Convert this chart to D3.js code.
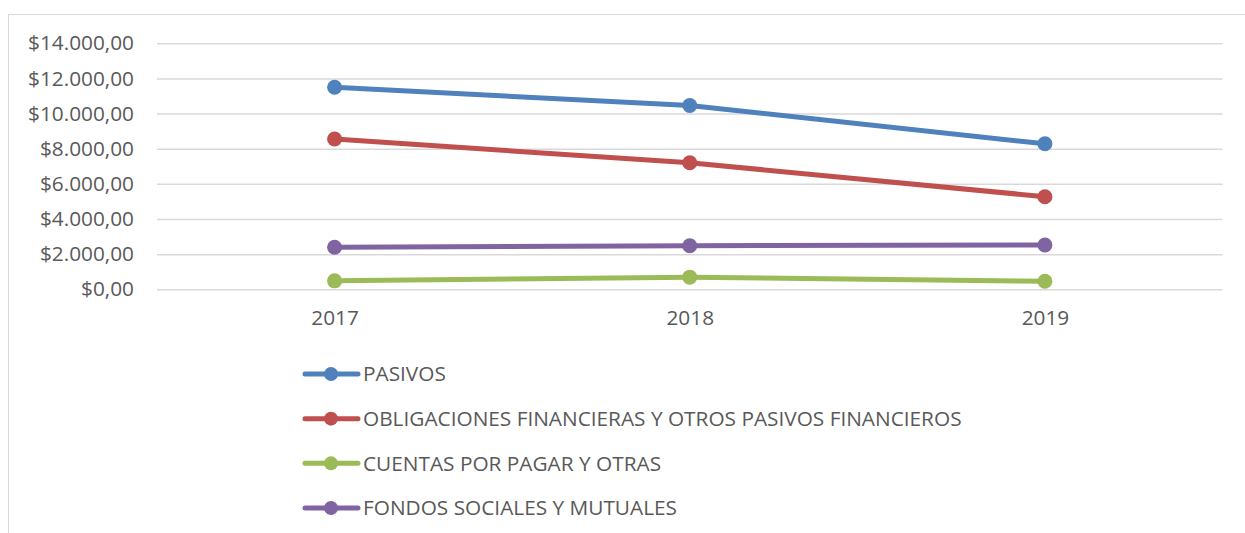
<!DOCTYPE html>
<html>
<head>
<meta charset="utf-8">
<script src="https://cdn.jsdelivr.net/npm/d3@7"></script>
<style>
  body { margin: 0; background: #fff; }
  svg text { font-family: "Open Sans", sans-serif; fill: #595959; }
</style>
</head>
<body>
<svg id="chart" width="1245" height="533"></svg>
<script>
const years = ['2017', '2018', '2019'];
const seriesNames = [
  'PASIVOS',
  'OBLIGACIONES FINANCIERAS Y OTROS PASIVOS FINANCIEROS',
  'CUENTAS POR PAGAR Y OTRAS',
  'FONDOS SOCIALES Y MUTUALES'
];
const pasivos = [11500, 10460, 8280];
const obligaciones = [8550, 7200, 5270];
const cuentas = [480, 690, 460];
const fondos = [2390, 2480, 2520];
const yTicks = [0, 2000, 4000, 6000, 8000, 10000, 12000, 14000];
const colors = ['#4F81BD', '#C0504D', '#9BBB59', '#8064A2'];

const seriesValues = [pasivos, obligaciones, cuentas, fondos];

const svg = d3.select('#chart');

// chart frame (cropped at right and bottom)
svg.append('rect')
  .attr('x', 8.5).attr('y', 14.5)
  .attr('width', 1300).attr('height', 600)
  .attr('fill', 'none')
  .attr('stroke', '#d9d9d9');

const xScale = d3.scalePoint()
  .domain(years)
  .range([157, 1222.5])
  .padding(0.5);

const yScale = d3.scaleLinear()
  .domain([0, 14000])
  .range([289.3, 43.3]);

const fmt = v => '$' + d3.format(',.2f')(v).replace(/,/g, '#').replace('.', ',').replace(/#/g, '.');

// gridlines + y labels
const yAxis = svg.append('g')
  .attr('transform', 'translate(157, 0)')
  .call(d3.axisLeft(yScale)
    .tickValues(yTicks)
    .tickSize(-(1222.5 - 157))
    .tickPadding(23)
    .tickFormat(fmt));
yAxis.select('.domain').remove();
yAxis.selectAll('line').attr('stroke', '#d9d9d9').attr('stroke-width', 1.5);
yAxis.selectAll('text').style('font-size', '20.8px').attr('fill', '#595959');

// x labels
const xAxis = svg.append('g')
  .attr('transform', 'translate(0, 289.3)')
  .call(d3.axisBottom(xScale).tickSize(0).tickPadding(21));
xAxis.select('.domain').remove();
xAxis.selectAll('text').style('font-size', '20.8px').attr('fill', '#595959');

const line = d3.line()
  .x((d, i) => xScale(years[i]))
  .y(d => yScale(d));

seriesValues.forEach((vals, s) => {
  svg.append('path')
    .attr('d', line(vals))
    .attr('fill', 'none')
    .attr('stroke', colors[s])
    .attr('stroke-width', 5)
    .attr('stroke-linecap', 'round')
    .attr('stroke-linejoin', 'round');
  svg.selectAll(null)
    .data(vals)
    .enter()
    .append('circle')
    .attr('cx', (d, i) => xScale(years[i]))
    .attr('cy', d => yScale(d))
    .attr('r', 7.5)
    .attr('fill', colors[s]);
});

// legend
const legendY = d3.scalePoint()
  .domain(seriesNames)
  .range([374, 508]);

const legend = svg.append('g');
seriesNames.forEach((name, s) => {
  const y = legendY(name);
  legend.append('line')
    .attr('x1', 305).attr('x2', 358)
    .attr('y1', y).attr('y2', y)
    .attr('stroke', colors[s])
    .attr('stroke-width', 5)
    .attr('stroke-linecap', 'round');
  legend.append('circle')
    .attr('cx', 331).attr('cy', y)
    .attr('r', 7)
    .attr('fill', colors[s]);
  legend.append('text')
    .attr('x', 363).attr('y', y)
    .attr('dy', '0.35em')
    .style('font-size', '20.8px')
    .text(name);
});
</script>
</body>
</html>
